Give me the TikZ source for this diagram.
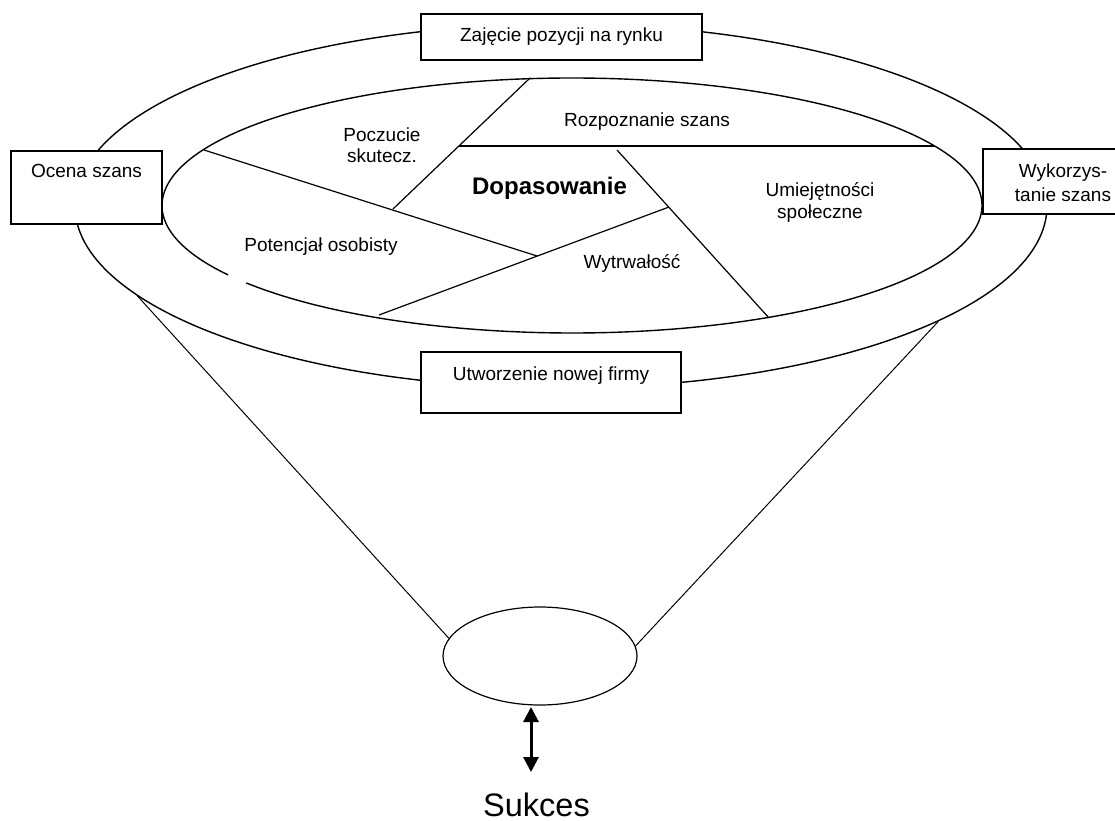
\documentclass[tikz,border=0pt]{standalone}
\usepackage{fontspec}
\setmainfont{Liberation Sans}
\usetikzlibrary{shapes.geometric,arrows.meta}
\begin{document}
\begin{tikzpicture}[x=1pt,y=1pt,
  boxst/.style={draw, fill=white, line width=1.5pt, inner sep=0pt, rectangle},
  txt/.style={font=\fontsize{19}{22}\selectfont, inner sep=0pt, anchor=base},
  ellst/.style={draw, ellipse, line width=1.4pt, inner sep=0pt},
  seg/.style={line width=1.2pt},
  cone/.style={line width=1pt},
  dbl/.style={line width=3pt, {Triangle[width=15pt,length=15pt]}-{Triangle[width=15pt,length=15pt]}}]
\useasboundingbox (0,0) rectangle (1115,820);
\clip (0,0) rectangle (1115,820);
\fill[white] (0,0) rectangle (1115,820);

% outer ellipse
\node[ellst, minimum width=972pt, minimum height=364pt] (outer) at (561,614) {};

% boxes on the outer ring
\node[boxst, minimum width=281pt, minimum height=46pt] (bzaj) at (561.5,783) {};
\node[boxst, minimum width=151pt, minimum height=73pt] (bocena) at (86.5,632.5) {};
\node[boxst, minimum width=160pt, minimum height=65pt] (bwyk) at (1063,638.5) {};
\node[boxst, minimum width=260pt, minimum height=61pt] (butw) at (551,437.5) {};

% inner ellipse (with a small gap at lower left)
\coordinate (ic) at (572,614.5);
\draw[line width=1.4pt] (ic) ++(217.4:410 and 127.5) arc[start angle=217.4, end angle=573, x radius=410pt, y radius=127.5pt];

% dividing lines
\coordinate (pL1) at (204,670);
\coordinate (pX) at (537,564);
\coordinate (pP1) at (530,742);
\coordinate (pP2) at (393,611);
\coordinate (pH1) at (459,674);
\coordinate (pH2) at (935,674);
\coordinate (pU1) at (617,670);
\coordinate (pU2) at (769,502);
\coordinate (pW1) at (379,505);
\coordinate (pW2) at (669,613);
\draw[seg] (pL1) -- (pX);
\draw[seg] (pP1) -- (pP2);
\draw[seg] (pH1) -- (pH2);
\draw[seg] (pU1) -- (pU2);
\draw[seg] (pW1) -- (pW2);

% bottom ellipse and cone
\node[ellst, minimum width=194pt, minimum height=98pt, line width=1.2pt] (bot) at (540,164) {};
\draw[cone] (outer.192.4) -- (bot.169);
\draw[cone] (outer.343.2) -- (bot.6);

% arrow to success
\coordinate (a1) at (531,113);
\coordinate (a2) at (531,48);
\draw[dbl] (a1) -- (a2);

% texts
\node[txt] (tzaj) at (561.5,778) {Zajęcie pozycji na rynku};
\node[txt] (tocena) at (86.5,642) {Ocena szans};
\node[txt] (twyk1) at (1063,642) {Wykorzys-};
\node[txt] (twyk2) at (1063,618.5) {tanie szans};
\node[txt] (tutw) at (551,439.3) {Utworzenie nowej firmy};
\node[txt] (trozp) at (647,693) {Rozpoznanie szans};
\node[txt] (tpocz1) at (382,678) {Poczucie};
\node[txt] (tpocz2) at (382,657) {skutecz.};
\node[txt, font=\fontsize{24}{28}\selectfont\bfseries] (tdop) at (549.5,625) {Dopasowanie};
\node[txt] (tumi1) at (820,623) {Umiejętności};
\node[txt] (tumi2) at (820,601) {społeczne};
\node[txt] (tpot) at (321,568) {Potencjał osobisty};
\node[txt] (twyt) at (632,551) {Wytrwałość};
\node[txt, font=\fontsize{32.5}{38}\selectfont, text depth=0pt] (tsuk) at (536.5,3.5) {Sukces};
\end{tikzpicture}
\end{document}
